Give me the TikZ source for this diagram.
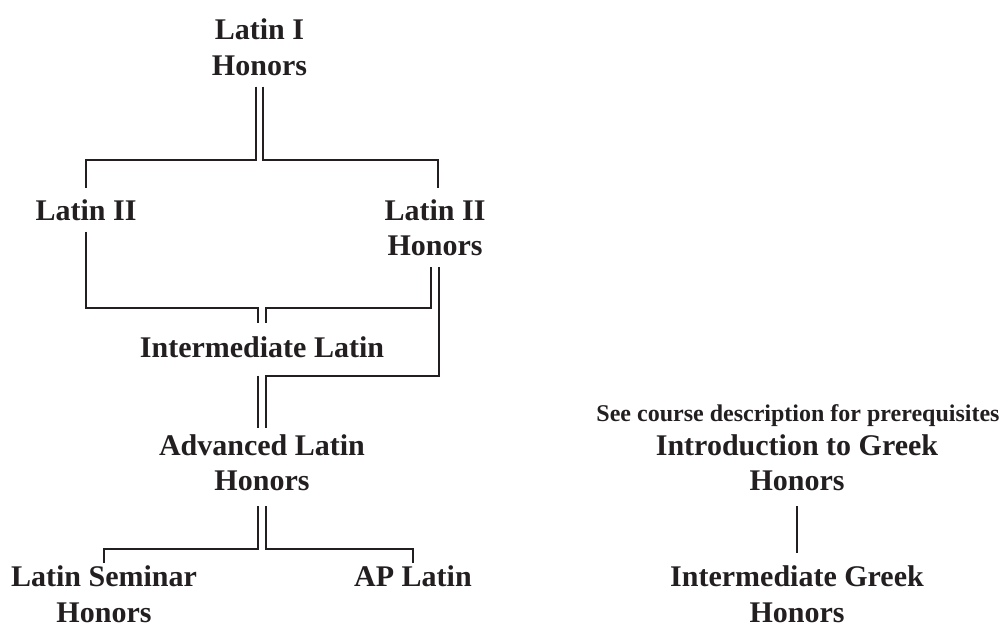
\documentclass[tikz,border=0pt]{standalone}
\usepackage{fontspec}
\setmainfont{Liberation Serif}
\usetikzlibrary{calc}
\definecolor{ink}{RGB}{35,31,32}

\begin{document}
\begin{tikzpicture}[x=1pt, y=-1pt, line width=1.7pt, color=ink,
  course/.style={anchor=north, align=center, inner sep=0pt, outer xsep=0pt, outer ysep=11pt,
    font=\fontsize{30}{35.5}\selectfont\bfseries},
  note/.style={anchor=north, align=center, inner sep=0pt,
    font=\fontsize{24}{28}\selectfont\bfseries}]

\def\dsep{3.8pt}

\useasboundingbox (0,0) rectangle (1001,628);

\node[course] (lat1) at (259.5,8) {Latin I\\Honors};
\node[course] (lat2) at (86,188.5) {Latin II};
\node[course] (lat2h) at (435,188.5) {Latin II\\Honors};
\node[course] (interm) at (262,325.5) {Intermediate Latin};
\node[course] (adv) at (262,423.5) {Advanced Latin\\Honors};
\node[course] (sem) at (104,555) {Latin Seminar\\Honors};
\node[course] (ap) at (413,555) {AP Latin};

\node[note] (see) at (798,404) {See course description for prerequisites};
\node[course] (intro) at (797,423.5) {Introduction to Greek\\Honors};
\node[course] (intg) at (797,555) {Intermediate Greek\\Honors};

\coordinate (fork1) at (0,160);
\coordinate (join1) at (0,308);
\coordinate (join2) at (0,376);
\coordinate (fork2) at (0,549);

% Latin I -> Latin II
\draw ([xshift=-\dsep]lat1.south) |- (lat2.north |- fork1) -- (lat2.north);
\draw ([xshift=\dsep]lat1.south) |- ([xshift=3pt]lat2h.north |- fork1) -- ([xshift=3pt]lat2h.north);

% Latin II -> Intermediate / Advanced
\draw (lat2.south) |- ([xshift=-\dsep]interm.north |- join1) -- ([xshift=-\dsep,yshift=3pt]interm.north);
\draw ([xshift=-\dsep]lat2h.south) |- ([xshift=\dsep]interm.north |- join1) -- ([xshift=\dsep,yshift=3pt]interm.north);
\draw ([xshift=\dsep]lat2h.south) |- ([xshift=\dsep]adv.north |- join2) -- ([xshift=\dsep,yshift=-4pt]adv.north);
\draw ([xshift=-\dsep,yshift=-7pt]interm.south) -- ([xshift=-\dsep,yshift=-4pt]adv.north);

% Advanced -> Seminar, AP
\draw ([xshift=-\dsep,yshift=-4pt]adv.south) |- (sem.north |- fork2) -- ([yshift=-8pt]sem.north);
\draw ([xshift=\dsep,yshift=-4pt]adv.south) |- (ap.north |- fork2) -- ([yshift=-8pt]ap.north);

% Greek
\draw ([yshift=-4pt]intro.south) -- ([yshift=2pt]intg.north);

\end{tikzpicture}
\end{document}
